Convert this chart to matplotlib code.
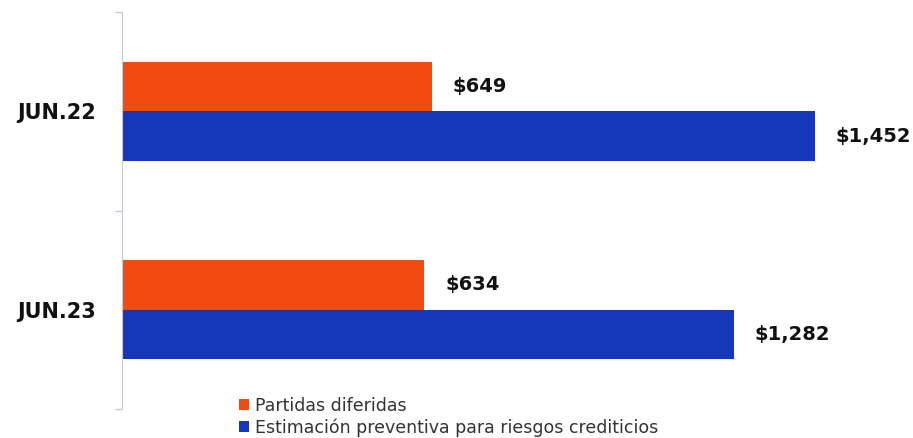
import matplotlib.pyplot as plt
import numpy as np

# Datos
periodos = ['JUN.22', 'JUN.23']
partidas_diferidas = [649, 634]
estimacion_preventiva = [1452, 1282]
series = ['Partidas diferidas', 'Estimación preventiva para riesgos crediticios']

color_naranja = '#F24B12'
color_azul = '#1537BA'

fig = plt.figure(figsize=(9.13, 4.38), dpi=100)
ax = fig.add_axes([122 / 913, 1 - 409 / 438, 1 - 122 / 913, (409 - 12) / 438])

y = np.arange(len(periodos))
alto = 0.25

barras1 = ax.barh(y - alto / 2, partidas_diferidas, height=alto, color=color_naranja, label=series[0])
barras2 = ax.barh(y + alto / 2, estimacion_preventiva, height=alto, color=color_azul, label=series[1])

# Etiquetas de valor
for barras, valores in [(barras1, partidas_diferidas), (barras2, estimacion_preventiva)]:
    for b, v in zip(barras, valores):
        ax.annotate(f'${v:,}', (b.get_width(), b.get_y() + b.get_height() / 2),
                    xytext=(15, 0), textcoords='offset points', va='center', ha='left',
                    fontsize=14, fontweight='bold', color='#111111')

ax.set_xlim(0, 791 / 0.477)
ax.set_ylim(len(periodos) - 0.5, -0.5)

ax.set_yticks(y)
ax.set_yticklabels(periodos, fontsize=15, fontweight='bold', color='#111111')
ax.tick_params(axis='y', which='major', length=0, pad=19)
ax.set_yticks(np.arange(-0.5, len(periodos), 1), minor=True)
ax.tick_params(axis='y', which='minor', length=5, color='#c8c8d4', width=1)
ax.set_xticks([])

for lado in ['top', 'right', 'bottom']:
    ax.spines[lado].set_visible(False)
ax.spines['left'].set_color('#c8c8d4')

fig.legend(handles=[barras1, barras2], labels=series, loc='upper left',
           bbox_to_anchor=(232 / 913, 1 - 390 / 438), frameon=False,
           fontsize=12.5, handlelength=0.6, handleheight=0.6, handletextpad=0.3,
           labelspacing=0.2, borderaxespad=0, labelcolor='#333333')

plt.savefig('out.png', dpi=100)
